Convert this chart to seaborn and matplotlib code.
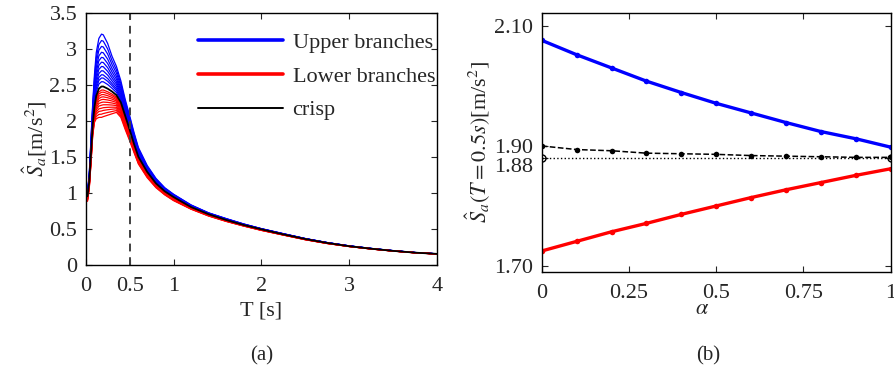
import numpy as np
import pandas as pd
import matplotlib
matplotlib.use("Agg")
import matplotlib.pyplot as plt
from matplotlib.lines import Line2D
import seaborn as sns

# ---------------- data ----------------
# (a) spectra
T = [0.02, 0.04, 0.06, 0.08, 0.10, 0.12, 0.15, 0.18, 0.20, 0.25, 0.30, 0.35,
     0.40, 0.45, 0.50, 0.55, 0.60, 0.70, 0.80, 0.90, 1.00, 1.20, 1.40, 1.60,
     1.80, 2.00, 2.25, 2.50, 2.75, 3.00, 3.25, 3.50, 3.75, 4.00]
sa_crisp = [0.95, 1.15, 1.55, 1.95, 2.20, 2.35, 2.45, 2.48, 2.48, 2.45, 2.41, 2.36,
            2.26, 2.07, 1.88, 1.68, 1.50, 1.29, 1.13, 1.02, 0.94, 0.80, 0.70, 0.62,
            0.55, 0.49, 0.42, 0.355, 0.30, 0.255, 0.22, 0.19, 0.165, 0.148]
sa_upper0 = [1.02, 1.25, 1.75, 2.25, 2.65, 2.95, 3.15, 3.21, 3.20, 3.08, 2.90, 2.76,
             2.56, 2.30, 2.076, 1.84, 1.63, 1.38, 1.20, 1.07, 0.98, 0.83, 0.72, 0.64,
             0.565, 0.50, 0.43, 0.362, 0.306, 0.26, 0.224, 0.193, 0.167, 0.149]
sa_lower0 = [0.88, 1.05, 1.40, 1.80, 1.98, 2.03, 2.05, 2.05, 2.06, 2.08, 2.10, 2.12,
             2.05, 1.88, 1.725, 1.56, 1.40, 1.21, 1.07, 0.97, 0.89, 0.77, 0.675, 0.60,
             0.535, 0.475, 0.41, 0.345, 0.292, 0.25, 0.216, 0.187, 0.163, 0.146]

# (b) values at T = 0.5 s versus alpha
alpha = [0.0, 0.1, 0.2, 0.3, 0.4, 0.5, 0.6, 0.7, 0.8, 0.9, 1.0]
upper05 = [2.076, 2.052, 2.030, 2.008, 1.989, 1.971, 1.955, 1.939, 1.924, 1.912, 1.898]
lower05 = [1.725, 1.741, 1.757, 1.771, 1.786, 1.800, 1.814, 1.827, 1.839, 1.851, 1.862]
mean05 = [1.900, 1.894, 1.892, 1.888, 1.887, 1.886, 1.884, 1.883, 1.882, 1.881, 1.881]
crisp05 = 1.88

xticks_a = [0, 0.5, 1, 2, 3, 4]
xlabels_a = ["0", "0.5", "1", "2", "3", "4"]
yticks_a = [0, 0.5, 1, 1.5, 2, 2.5, 3, 3.5]
ylabels_a = ["0", "0.5", "1", "1.5", "2", "2.5", "3", "3.5"]
xticks_b = [0, 0.25, 0.5, 0.75, 1]
xlabels_b = ["0", "0.25", "0.5", "0.75", "1"]
yticks_b = [1.70, 1.88, 1.90, 2.10]
ylabels_b = ["1.70", "1.88", "1.90", "2.10"]

# ---------------- tables ----------------
Ta = np.array(T)
cr = np.array(sa_crisp)
up0 = np.array(sa_upper0)
lo0 = np.array(sa_lower0)
wu = (np.array(upper05) - crisp05) / (upper05[0] - crisp05)
wl = (crisp05 - np.array(lower05)) / (crisp05 - lower05[0])
rows_u, rows_l = [], []
for a, w1, w2 in zip(alpha, wu, wl):
    for t, c, u, l in zip(Ta, cr, up0, lo0):
        rows_u.append((a, t, c + (u - c) * w1))
        rows_l.append((a, t, c - (c - l) * w2))
df_u = pd.DataFrame(rows_u, columns=["alpha", "T", "Sa"])
df_l = pd.DataFrame(rows_l, columns=["alpha", "T", "Sa"])
df_c = pd.DataFrame({"T": T, "Sa": sa_crisp})
df_b = pd.DataFrame({"alpha": alpha, "upper": upper05, "lower": lower05, "mean": mean05})

# ---------------- style ----------------
sns.set_style("ticks", {"xtick.direction": "in", "ytick.direction": "in"})
plt.rcParams["font.family"] = "serif"
plt.rcParams["font.serif"] = ["Liberation Serif", "DejaVu Serif"]
plt.rcParams["mathtext.fontset"] = "stix"
plt.rcParams["font.size"] = 16
plt.rcParams["axes.linewidth"] = 1.0
plt.rcParams["axes.edgecolor"] = "black"

W, H = 894, 381
fig = plt.figure(figsize=(W / 100, H / 100), dpi=100)

def px_axes(x0, x1, ytop, ybot):
    return fig.add_axes([x0 / W, 1 - ybot / H, (x1 - x0) / W, (ybot - ytop) / H])

axA = px_axes(85.7, 437.0, 13.3, 264.5)
axB = px_axes(541.7, 890.7, 12.7, 271.7)

# ---------------- (a) ----------------
sns.lineplot(data=df_u, x="T", y="Sa", units="alpha", estimator=None,
             color="#0000ff", lw=0.9, ax=axA, legend=False)
sns.lineplot(data=df_l, x="T", y="Sa", units="alpha", estimator=None,
             color="#ff0000", lw=0.9, ax=axA, legend=False)
sns.lineplot(data=df_c, x="T", y="Sa", color="black", lw=1.3, ax=axA, legend=False)
axA.axvline(0.5, color="#404040", lw=1.4, ls=(0, (4, 3)))
axA.set_xlim(0, 4)
axA.set_ylim(0, 3.5)
axA.set_xticks(xticks_a)
axA.set_xticklabels(xlabels_a)
axA.set_yticks(yticks_a)
axA.set_yticklabels(ylabels_a)
axA.set_xlabel("T [s]", labelpad=4)
axA.set_ylabel(r"$\hat{S}_a$[m/s$^2$]", labelpad=0)
handles = [Line2D([], [], color="#0000ff", lw=2.6),
           Line2D([], [], color="#ff0000", lw=2.6),
           Line2D([], [], color="black", lw=1.4)]
axA.legend(handles, ["Upper branches", "Lower branches", "crisp"],
           loc="upper left", bbox_to_anchor=(0.32, 0.925), frameon=False,
           handlelength=3.8, handletextpad=0.45, labelspacing=0.6,
           borderpad=0, borderaxespad=0, fontsize=16)

# ---------------- (b) ----------------
sns.lineplot(data=df_b, x="alpha", y="upper", color="#0000ff", lw=2.4,
             marker="o", markersize=4, markeredgewidth=0, ax=axB)
sns.lineplot(data=df_b, x="alpha", y="lower", color="#ff0000", lw=2.4,
             marker="o", markersize=4, markeredgewidth=0, ax=axB)
sns.lineplot(data=df_b, x="alpha", y="mean", color="black", lw=1.1,
             marker="o", markersize=4, markeredgewidth=0, ax=axB, linestyle="--")
axB.plot([alpha[0], alpha[-1]], [crisp05, crisp05], color="black", lw=1.0,
         ls=":", marker="o", mfc="none", mec="black", ms=5, mew=1.0)
axB.set_xlim(0, 1)
axB.set_ylim(1.6905, 2.122)
axB.set_xticks(xticks_b)
axB.set_xticklabels(xlabels_b)
axB.set_yticks(yticks_b)
axB.set_yticklabels(ylabels_b)
axB.set_xlabel(r"$\alpha$")
axB.xaxis.set_label_coords((701.7 - 541.7) / 349.0, (271.7 - 310.0) / 259.0)
axB.xaxis.label.set_va("center")
axB.set_ylabel(r"$\hat{S}_a(T=0.5s)$[m/s$^2$]", labelpad=2)
for lab in axB.get_yticklabels():
    if lab.get_text() == "1.88":
        lab.set_va("top")

for ax in (axA, axB):
    ax.tick_params(direction="in", top=True, right=True, length=4, width=0.8,
                   labelsize=16, pad=6)
    ax.tick_params(axis="x", pad=9)
    for s in ax.spines.values():
        s.set_visible(True)
        s.set_linewidth(1.0)

fig.text(262 / W, 1 - 356 / H, "(a)", ha="center", va="center", fontsize=15)
fig.text(708 / W, 1 - 356 / H, "(b)", ha="center", va="center", fontsize=15)

fig.savefig("out.png", dpi=100)
